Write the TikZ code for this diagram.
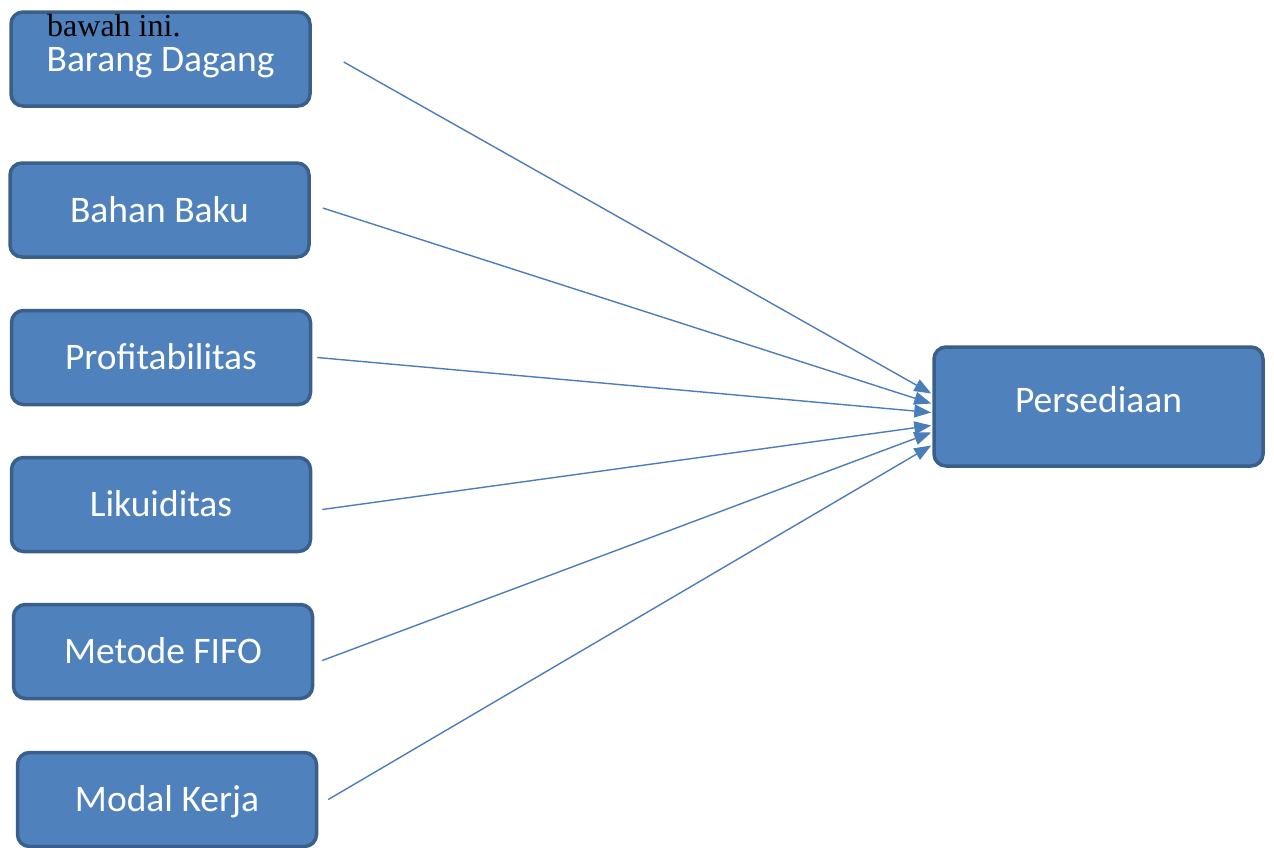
\documentclass[tikz,border=0pt]{standalone}
\usepackage{fontspec}
\newfontfamily\boxfont{Carlito}
\newfontfamily\docfont{Liberation Serif}
\usepackage{tikz}
\usetikzlibrary{
  arrows.meta,
  positioning,
  }
\definecolor{boxfill}{HTML}{4F81BD}
\definecolor{boxline}{HTML}{3A5F8B}
\definecolor{linkcol}{HTML}{4A7EBB}

\begin{document}
\begin{tikzpicture}[x=1pt, y=-1pt,
        factor/.style={rectangle, rounded corners=12pt, fill=boxfill, draw=boxline,
            line width=3.5pt, minimum width=299pt, minimum height=94pt,
            text height=24pt, text depth=0pt,
            text=white, font=\boxfont\fontsize{37.5}{44}\selectfont},
        link/.style={draw=linkcol, line width=1.4pt,
            -{Triangle[length=17pt, width=13pt]}}]
                \useasboundingbox (0,0) rectangle (1274,847);
                \node[factor] (bd) at (160.5,59) {Barang Dagang};
                \node[factor] (bb) at (159.5,210) {Bahan Baku};
                \node[factor] (pr) at (161,357.5) {Profitabilitas};
                \node[factor] (lk) at (161,504.5) {Likuiditas};
                \node[factor] (mf) at (163,651.5) {Metode FIFO};
                \node[factor] (mk) at (167,799.5) {Modal Kerja};
                \node[factor, minimum width=329pt, minimum height=119pt, text depth=12pt] (ps) at (1098.5,406.5) {Persediaan};
                \node[anchor=base west, inner sep=0pt, font=\docfont\fontsize{32}{36}\selectfont] (ket) at (47,36) {bawah ini.};

                \draw[link] ([xshift=32pt, yshift=-3pt]bd.east) -- ([xshift=-1pt, yshift=13pt]ps.west);
                \draw[link] ([xshift=12pt, yshift=2pt]bb.east) -- ([xshift=-1pt, yshift=3pt]ps.west);
                \draw[link] ([xshift=5pt]pr.east) -- ([xshift=-1pt, yshift=-6pt]ps.west);
                \draw[link] ([xshift=10pt, yshift=-5pt]lk.east) -- ([xshift=-1pt, yshift=-19pt]ps.west);
                \draw[link] ([xshift=8pt, yshift=-9pt]mf.east) -- ([xshift=-1pt, yshift=-26pt]ps.west);
                \draw[link] ([xshift=10pt]mk.east) -- ([xshift=-1pt, yshift=-39pt]ps.west);
            \end{tikzpicture}
\end{document}
